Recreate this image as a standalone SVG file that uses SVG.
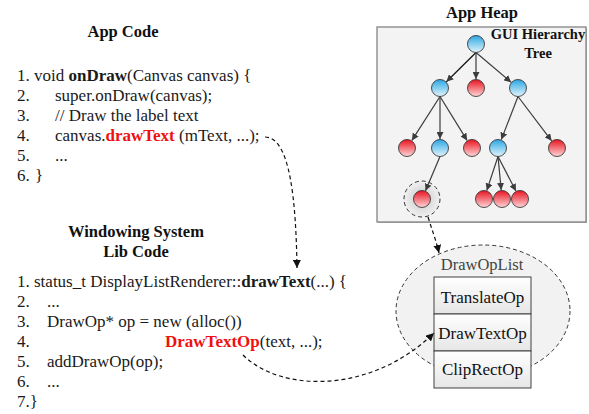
<svg xmlns="http://www.w3.org/2000/svg" width="589" height="414" viewBox="0 0 589 414">
<style>
text{font-family:"Liberation Serif","Times New Roman",serif;font-size:17px;fill:#1a1a1a}
.title{font-weight:bold;text-anchor:middle;fill:#111;font-size:16.5px}
.b{font-weight:bold}
.red{font-weight:bold;fill:#f01010}
.edge{stroke:#3c3c3c;stroke-width:1.2;fill:none;marker-end:url(#tri)}
.dash{stroke:#111;stroke-width:1.2;fill:none;stroke-dasharray:4 3;marker-end:url(#blk)}
.blue{fill:url(#gBlue);stroke:#3a3a3a;stroke-width:0.9}
.redc{fill:url(#gRed);stroke:#3a3a3a;stroke-width:0.9}
.op{fill:url(#gBox);stroke:#404040;stroke-width:1}
.opt{text-anchor:middle;fill:#111}
</style>
<defs>
<linearGradient id="gBlue" x1="0" y1="0" x2="0" y2="1"><stop offset="0" stop-color="#2aa6e2"/><stop offset="1" stop-color="#e3f5fd"/></linearGradient>
<linearGradient id="gRed" x1="0" y1="0" x2="0" y2="1"><stop offset="0" stop-color="#e8131f"/><stop offset="1" stop-color="#ffd6d8"/></linearGradient>
<linearGradient id="gBox" x1="0" y1="0" x2="0" y2="1"><stop offset="0" stop-color="#ffffff"/><stop offset="1" stop-color="#e6e6e6"/></linearGradient>
<radialGradient id="gHalo"><stop offset="0" stop-color="#c8c8c8"/><stop offset="1" stop-color="#f0f0f0"/></radialGradient>
<marker id="tri" viewBox="0 0 10 10" refX="10" refY="5" markerWidth="7" markerHeight="7" markerUnits="userSpaceOnUse" orient="auto"><path d="M0,0 L10,5 L0,10 z" fill="#3c3c3c"/></marker>
<marker id="blk" viewBox="0 0 10 10" refX="10" refY="5" markerWidth="8" markerHeight="8" markerUnits="userSpaceOnUse" orient="auto"><path d="M0,0 L10,5 L0,10 z" fill="#111"/></marker>
</defs>

<g id="app-code">
<text class="title" x="123" y="37">App Code</text>
<text x="17" y="81">1. void <tspan class="b">onDraw</tspan>(Canvas canvas) {</text>
<text y="101"><tspan x="17">2.</tspan><tspan x="55">super.onDraw(canvas);</tspan></text>
<text y="121"><tspan x="17">3.</tspan><tspan x="55">// Draw the label text</tspan></text>
<text y="141"><tspan x="17">4.</tspan><tspan x="55">canvas.</tspan><tspan class="red">drawText</tspan> (mText, ...);</text>
<text y="161"><tspan x="17">5.</tspan><tspan x="55">...</tspan></text>
<text y="181"><tspan x="17">6.</tspan><tspan x="35">}</tspan></text>
</g>

<g id="lib-code">
<text class="title" x="136" y="237">Windowing System</text>
<text class="title" x="136" y="257">Lib Code</text>
<text x="17" y="287">1. status_t DisplayListRenderer::<tspan class="b">drawText</tspan>(...) {</text>
<text y="307"><tspan x="17">2.</tspan><tspan x="47">...</tspan></text>
<text y="327"><tspan x="17">3.</tspan><tspan x="47">DrawOp* op = new (alloc())</tspan></text>
<text y="347"><tspan x="17">4.</tspan><tspan x="165" class="red">DrawTextOp</tspan>(text, ...);</text>
<text y="367"><tspan x="17">5.</tspan><tspan x="47">addDrawOp(op);</tspan></text>
<text y="387"><tspan x="17">6.</tspan><tspan x="47">...</tspan></text>
<text x="17" y="407">7.}</text>
</g>

<g id="app-heap">
<text class="title" x="482" y="18">App Heap</text>
<rect x="378" y="28" width="209" height="195" fill="#bdbdbd"/>
<rect x="377" y="27" width="209" height="195" fill="#f3f3f3" stroke="#7a7a7a" stroke-width="1.2"/>
<text class="title" x="538" y="39" style="font-size:14.5px">GUI Hierarchy</text>
<text class="title" x="538" y="58" style="font-size:14.5px">Tree</text>
</g>

<g id="halo">
<circle cx="422" cy="199" r="18" fill="url(#gHalo)" stroke="#333" stroke-width="1" stroke-dasharray="4 3"/>
</g>

<g id="drawoplist">
<ellipse cx="483" cy="311" rx="87" ry="66" fill="#f2f2f2" stroke="#333" stroke-width="1" stroke-dasharray="4 3"/>
<text x="482" y="270" style="text-anchor:middle;fill:#444;font-size:16.5px">DrawOpList</text>
</g>
<g id="op-translate"><rect class="op" x="434" y="277" width="97" height="37"/><text class="opt" x="482.5" y="303">TranslateOp</text></g>
<g id="op-drawtext"><rect class="op" x="434" y="314" width="97" height="37"/><text class="opt" x="482.5" y="339">DrawTextOp</text></g>
<g id="op-cliprect"><rect class="op" x="434" y="351" width="97" height="37"/><text class="opt" x="482.5" y="375">ClipRectOp</text></g>

<g id="connectors">
<line class="edge" x1="476" y1="52.5" x2="446.4" y2="81.7" style="stroke:#111"/>
<line class="edge" x1="476" y1="52.5" x2="476" y2="79"/>
<line class="edge" x1="476" y1="52.5" x2="511.1" y2="82.2"/>
<line class="edge" x1="440" y1="96.5" x2="411.9" y2="140.4"/>
<line class="edge" x1="440" y1="96.5" x2="440" y2="139"/>
<line class="edge" x1="440" y1="96.5" x2="467.1" y2="140.4"/>
<line class="edge" x1="518" y1="96.5" x2="501.3" y2="139.6"/>
<line class="edge" x1="518" y1="96.5" x2="551.6" y2="140.8"/>
<line class="edge" x1="440" y1="156.5" x2="425.5" y2="190.7"/>
<line class="edge" x1="498" y1="156.5" x2="486.8" y2="190.4"/>
<line class="edge" x1="498" y1="156.5" x2="501.2" y2="190"/>
<line class="edge" x1="498" y1="156.5" x2="515.9" y2="191"/>
<path class="dash" d="M265,137 C290,137 296,200 297,268"/>
<path class="dash" d="M243,355 C280,392 370,395 434,333"/>
<path class="dash" d="M428,217 C432,230 436,240 439,253"/>
</g>

<g id="tree-nodes">
<circle id="n-root" class="blue" cx="476" cy="44" r="8.5"/>
<circle id="n-l" class="blue" cx="440" cy="88" r="8.5"/>
<circle id="n-m" class="redc" cx="476" cy="88" r="8.5"/>
<circle id="n-r" class="blue" cx="518" cy="88" r="8.5"/>
<circle id="n-ll" class="redc" cx="407" cy="148" r="8.5"/>
<circle id="n-lm" class="blue" cx="440" cy="148" r="8.5"/>
<circle id="n-lr" class="redc" cx="472" cy="148" r="8.5"/>
<circle id="n-rl" class="blue" cx="498" cy="148" r="8.5"/>
<circle id="n-rr" class="redc" cx="557" cy="148" r="8.5"/>
<circle id="n-lml" class="redc" cx="422" cy="199" r="8.5"/>
<circle id="n-rl1" class="redc" cx="484" cy="199" r="8.5"/>
<circle id="n-rl2" class="redc" cx="502" cy="199" r="8.5"/>
<circle id="n-rl3" class="redc" cx="520" cy="199" r="8.5"/>
</g>
</svg>
